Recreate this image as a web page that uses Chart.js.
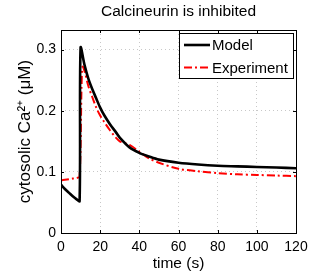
<!DOCTYPE html>
<html>
<head>
<meta charset="utf-8">
<script src="https://cdn.jsdelivr.net/npm/chart.js@4"></script>
<style>
  html, body { margin: 0; padding: 0; background: #fff; }
  #wrap { width: 327px; height: 273px; }
</style>
</head>
<body>
<div id="wrap"><canvas id="chart" width="327" height="273"></canvas></div>
<script>
// values
const modelTime = [0, 2, 4, 6, 8, 9.5, 10, 12, 14, 16, 18, 20, 22, 25, 28, 30, 35, 40, 45, 50, 60, 70, 80, 90, 100, 110, 120];
const modelCa   = [0.079, 0.072, 0.066, 0.060, 0.055, 0.052, 0.303, 0.275, 0.252, 0.235, 0.220, 0.205, 0.193, 0.178, 0.165, 0.156, 0.140, 0.131, 0.125, 0.120, 0.115, 0.112, 0.110, 0.109, 0.108, 0.107, 0.106];

const expTime = [0, 2, 4, 6, 8, 9.5, 10.5, 11, 12, 14, 16, 18, 20, 22, 25, 28, 30, 35, 40, 45, 50, 60, 70, 80, 90, 100, 110, 120];
const expCa   = [0.086, 0.087, 0.088, 0.089, 0.090, 0.092, 0.240, 0.272, 0.265, 0.240, 0.222, 0.205, 0.192, 0.182, 0.168, 0.156, 0.150, 0.144, 0.133, 0.122, 0.115, 0.105, 0.101, 0.098, 0.096, 0.095, 0.094, 0.093];

const xTicks = [0, 20, 40, 60, 80, 100, 120];
const yTicks = [0, 0.1, 0.2, 0.3];

const FONT = "'Liberation Sans', Arial, Helvetica, sans-serif";

const toPoints = (xs, ys) => xs.map((x, i) => ({ x: x, y: ys[i] }));

// frame, inward ticks, title and legend (MATLAB look)
const matlabPlugin = {
  id: 'matlab',
  afterDatasetsDraw(chart) {
    const { ctx, chartArea: a, scales } = chart;
    ctx.save();
    ctx.strokeStyle = '#000';
    ctx.lineWidth = 1;
    // inward ticks
    ctx.beginPath();
    scales.x.ticks.forEach(t => {
      const px = Math.round(scales.x.getPixelForValue(t.value)) + 0.5;
      ctx.moveTo(px, a.bottom); ctx.lineTo(px, a.bottom - 3);
      ctx.moveTo(px, a.top); ctx.lineTo(px, a.top + 3);
    });
    scales.y.ticks.forEach(t => {
      const py = Math.round(scales.y.getPixelForValue(t.value)) + 0.5;
      ctx.moveTo(a.left, py); ctx.lineTo(a.left + 3, py);
      ctx.moveTo(a.right, py); ctx.lineTo(a.right - 3, py);
    });
    ctx.stroke();
    ctx.strokeRect(Math.round(a.left) + 0.5, Math.round(a.top) + 0.5,
                   Math.round(a.right - a.left), Math.round(a.bottom - a.top));

    // title
    ctx.fillStyle = '#000';
    ctx.font = '15.5px ' + FONT;
    ctx.textAlign = 'center';
    ctx.textBaseline = 'middle';
    ctx.fillText('Calcineurin is inhibited', (a.left + a.right) / 2, 12);

    // legend
    const lx = 179, ly = 33, lw = 114, lh = 45;
    ctx.fillStyle = '#fff';
    ctx.fillRect(lx, ly, lw, lh);
    ctx.strokeRect(lx + 0.5, ly + 0.5, lw, lh);
    ctx.font = '15px ' + FONT;
    chart.data.datasets.forEach((ds, i) => {
      const y = ly + 12 + i * 22.5;
      ctx.save();
      ctx.strokeStyle = ds.borderColor;
      ctx.lineWidth = ds.borderWidth;
      ctx.setLineDash(ds.borderDash || []);
      ctx.beginPath();
      ctx.moveTo(lx + 5, y); ctx.lineTo(lx + 31, y);
      ctx.stroke();
      ctx.restore();
      ctx.fillStyle = '#000';
      ctx.textAlign = 'left';
      ctx.fillText(ds.label, lx + 33, y + 1);
    });
    ctx.restore();
  }
};

new Chart(document.getElementById('chart'), {
  type: 'line',
  data: {
    datasets: [
      {
        label: 'Model',
        data: toPoints(modelTime, modelCa),
        borderColor: '#000',
        borderWidth: 2.6,
        pointRadius: 0,
        tension: 0.3,
        fill: false
      },
      {
        label: 'Experiment',
        data: toPoints(expTime, expCa),
        borderColor: '#ff0000',
        borderWidth: 2,
        borderDash: [8, 3, 2, 3],
        pointRadius: 0,
        tension: 0.3,
        fill: false
      }
    ]
  },
  options: {
    responsive: false,
    animation: false,
    layout: { padding: { top: 30, right: 31, left: 0, bottom: 0 } },
    plugins: {
      legend: { display: false },
      title: { display: false },
      tooltip: { enabled: false }
    },
    scales: {
      x: {
        type: 'linear',
        min: 0,
        max: 120,
        afterBuildTicks: s => { s.ticks = xTicks.map(v => ({ value: v })); },
        afterFit: s => { s.height = 40; },
        grid: { color: '#c8c8c8', drawTicks: false },
        border: { display: false, dash: [1, 3] },
        ticks: { color: '#000', padding: 6, maxRotation: 0, font: { family: FONT, size: 14 } },
        title: { display: true, text: 'time (s)', color: '#000', padding: 0, font: { family: FONT, size: 15.5 } }
      },
      y: {
        type: 'linear',
        min: 0,
        max: 0.332,
        afterBuildTicks: s => { s.ticks = yTicks.map(v => ({ value: v })); },
        afterFit: s => { s.width = 61; },
        grid: { color: '#c8c8c8', drawTicks: false },
        border: { display: false, dash: [1, 3] },
        ticks: { color: '#000', padding: 5, font: { family: FONT, size: 14 },
                 callback: v => (v === 0 ? '0' : String(v)) },
        title: { display: true, text: 'cytosolic Ca²⁺ (μM)', color: '#000', padding: { top: 15, bottom: 0 }, font: { family: FONT, size: 17 } }
      }
    }
  },
  plugins: [matlabPlugin]
});
</script>
</body>
</html>
